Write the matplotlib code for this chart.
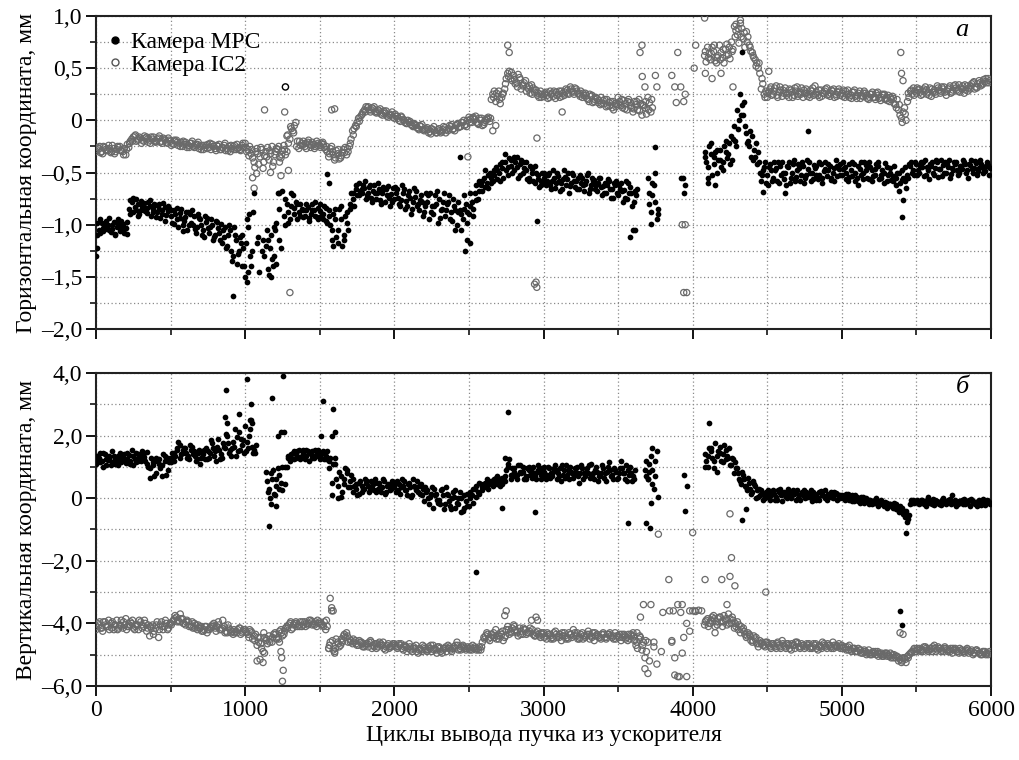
import numpy as np
import matplotlib
matplotlib.use("Agg")
import matplotlib.pyplot as plt
from matplotlib.lines import Line2D
from matplotlib.ticker import FixedLocator, FixedFormatter

nan = np.nan

# beam extraction cycle: three interleaved readouts, every 20 cycles each
cycles = np.arange(0, 6000, 20)
cycles_b = cycles + 10
cycles_c = cycles + 5

# horizontal coordinate, camera MPC, mm
mpc_h = [
    -1.30, -1.05, -0.98, -1.04, -1.00, -1.07, -0.97, -1.02, -1.06, -0.99, -1.03, -0.85, -0.78, -0.83, -0.80, -0.86, -0.79, -0.84, -0.82, -0.88, -0.81, -0.85, -0.90, -0.83, -0.87,
    -0.92, -0.86, -0.95, -0.89, -1.00, -0.93, -0.88, -0.98, -0.92, -1.02, -0.95, -1.05, -0.97, -1.08, -1.00, -1.10, -1.03, -0.99, -1.12, -1.20, -1.05, -1.30, -1.15, -1.25, -1.10,
    -1.50, -1.02, -1.40, -0.70, -1.18, nan, -1.15, -1.20, -1.48, -1.33, -1.05, -0.70, -1.22, -0.92, -0.80, -0.95, -0.72, -0.78, -0.88, -0.85, -0.92, -0.83, -0.90, -0.86, -0.93,
    -0.87, -0.95, -0.84, -0.92, -1.05, -0.85, -1.18, -0.95, -1.10, -0.88, -0.80, -0.75, -0.66, -0.60, -0.70, -0.65, -0.72, -0.62, -0.68, -0.75, -0.66, -0.70, -0.78, -0.63, -0.71,
    -0.75, -0.66, -0.82, -0.70, -0.77, -0.68, -0.85, -0.73, -0.80, -0.72, -0.88, -0.78, -0.70, -0.90, -0.80, -0.75, -0.85, -0.92, -0.78, -0.88, -0.82, -1.00, -0.86, -0.95, -0.80,
    -0.90, -0.78, -0.70, -0.75, -0.62, -0.55, -0.60, -0.50, -0.58, -0.45, -0.50, -0.40, -0.32, -0.45, -0.38, -0.48, -0.35, -0.42, -0.50, -0.40, -0.55, -0.47, -0.60, -0.52, -0.58,
    -0.55, -0.62, -0.50, -0.58, -0.65, -0.53, -0.60, -0.48, -0.56, -0.63, -0.52, -0.58, -0.66, -0.55, -0.61, -0.50, -0.62, -0.57, -0.68, -0.55, -0.63, -0.70, -0.58, -0.66, -0.62,
    -0.72, -0.60, -0.67, -0.75, -0.64, -1.05, -0.72, nan, nan, nan, -0.55, -0.88, -0.62, -0.95, nan, nan, nan, nan, nan, nan, nan, -0.55, -0.70, nan, nan,
    nan, nan, nan, nan, -0.30, -0.45, -0.22, -0.35, -0.50, -0.28, -0.40, -0.20, -0.32, -0.15, -0.05, 0.10, 0.25, 0.05, -0.12, -0.25, -0.15, -0.35, -0.30, -0.58, -0.45,
    -0.52, -0.42, -0.55, -0.46, -0.60, -0.40, -0.50, -0.45, -0.55, -0.38, -0.48, -0.58, -0.44, -0.52, -0.40, -0.50, -0.46, -0.56, -0.42, -0.49, -0.53, -0.44, -0.50, -0.38, -0.47,
    -0.52, -0.45, -0.58, -0.48, -0.42, -0.55, -0.47, -0.50, -0.43, -0.56, -0.48, -0.52, -0.44, -0.55, -0.50, -0.58, -0.46, -0.53, -0.62, -0.50, -0.57, -0.45, -0.52, -0.44, -0.48,
    -0.42, -0.50, -0.45, -0.38, -0.48, -0.44, -0.52, -0.40, -0.47, -0.43, -0.50, -0.38, -0.46, -0.42, -0.52, -0.44, -0.40, -0.48, -0.43, -0.50, -0.41, -0.46, -0.44, -0.49, -0.43,
]
mpc_h_b = [
    -0.98, -1.08, -1.03, -0.96, -1.05, -1.00, -1.09, -0.95, -1.01, -1.08, -0.97, -0.76, -0.88, -0.75, -0.90, -0.82, -0.87, -0.78, -0.92, -0.80, -0.88, -0.94, -0.79, -0.91, -0.84,
    -0.98, -0.90, -1.02, -0.85, -0.96, -1.05, -0.90, -1.00, -1.08, -0.94, -1.10, -0.92, -1.03, -0.95, -1.12, -0.97, -1.15, -1.05, -1.22, -1.00, -1.35, -1.10, -1.28, -1.18, -1.40,
    -0.95, -1.30, -0.88, nan, -1.45, -1.25, nan, -1.42, -1.10, -1.02, -1.38, -0.85, nan, -0.75, -0.98, -0.82, -0.90, -0.95, -0.80, -0.93, -0.86, -0.96, -0.80, -0.92, -0.84,
    -0.92, -0.82, -0.98, -1.00, -0.90, -1.12, -0.85, -1.20, -0.92, -1.05, -0.70, -0.82, -0.72, -0.68, -0.62, -0.75, -0.64, -0.78, -0.70, -0.60, -0.80, -0.66, -0.72, -0.82, -0.65,
    -0.70, -0.80, -0.62, -0.85, -0.72, -0.90, -0.65, -0.82, -0.76, -0.92, -0.70, -0.95, -0.82, -0.72, -0.98, -0.86, -0.70, -0.80, -0.95, -0.75, -1.05, -0.78, -0.90, -0.72, -0.98,
    -0.70, -0.85, -0.62, -0.58, -0.68, -0.48, -0.65, -0.55, -0.48, -0.56, -0.42, -0.55, -0.48, -0.36, -0.50, -0.40, -0.55, -0.38, -0.46, -0.56, -0.44, -0.58, -0.50, -0.64, -0.50,
    -0.60, -0.52, -0.66, -0.55, -0.50, -0.68, -0.56, -0.62, -0.70, -0.50, -0.64, -0.55, -0.60, -0.68, -0.52, -0.66, -0.58, -0.62, -0.55, -0.72, -0.60, -0.56, -0.74, -0.60, -0.70,
    -0.66, -0.78, -0.58, -0.70, -0.82, -0.68, nan, nan, nan, nan, -0.70, -0.60, -0.78, -0.85, nan, nan, nan, nan, nan, nan, nan, nan, -0.62, nan, nan,
    nan, nan, nan, nan, -0.40, -0.25, -0.52, -0.30, -0.38, -0.45, -0.25, -0.36, -0.42, -0.18, -0.25, 0.00, 0.15, -0.05, -0.20, -0.35, -0.28, -0.42, -0.50, -0.48, -0.60,
    -0.45, -0.58, -0.48, -0.40, -0.52, -0.56, -0.44, -0.60, -0.42, -0.54, -0.46, -0.40, -0.55, -0.47, -0.58, -0.43, -0.52, -0.40, -0.55, -0.47, -0.42, -0.57, -0.46, -0.53, -0.42,
    -0.47, -0.56, -0.42, -0.53, -0.58, -0.44, -0.52, -0.40, -0.55, -0.45, -0.53, -0.42, -0.56, -0.48, -0.41, -0.52, -0.57, -0.44, -0.50, -0.60, -0.55, -0.65, -0.42, -0.50, -0.40,
    -0.48, -0.40, -0.53, -0.45, -0.42, -0.50, -0.38, -0.47, -0.53, -0.40, -0.45, -0.51, -0.40, -0.48, -0.44, -0.38, -0.50, -0.42, -0.47, -0.39, -0.49, -0.42, -0.47, -0.40, -0.46,
]
mpc_h_c = [
    -1.10, -0.95, -1.06, -1.01, -0.94, -1.04, -1.10, -0.99, -0.96, -1.04, -1.09, -0.90, -0.74, -0.86, -0.92, -0.77, -0.83, -0.89, -0.76, -0.85, -0.93, -0.80, -0.86, -0.96, -0.82,
    -0.86, -0.99, -0.84, -0.94, -1.06, -0.88, -1.00, -0.86, -1.04, -0.90, -1.00, -1.12, -0.94, -1.02, -1.15, -0.96, -1.08, -1.18, -1.02, -1.10, -1.25, -1.02, -1.38, -1.12, -1.22,
    -1.18, -0.90, -1.25, nan, -1.12, nan, -1.30, -1.05, -1.22, -1.40, -0.98, -1.15, -0.68, -1.00, -0.88, -0.70, -0.84, -0.80, -0.92, -0.86, -0.80, -0.94, -0.86, -0.78, -0.95,
    -0.80, -0.90, -0.96, -0.86, -1.15, -0.95, -1.05, -0.82, -1.15, -0.98, -0.85, -0.70, -0.62, -0.72, -0.66, -0.58, -0.70, -0.74, -0.62, -0.70, -0.76, -0.64, -0.66, -0.74, -0.78,
    -0.64, -0.74, -0.76, -0.66, -0.82, -0.74, -0.78, -0.68, -0.86, -0.78, -0.82, -0.72, -0.88, -0.82, -0.68, -0.94, -0.78, -0.86, -0.72, -0.96, -0.86, -0.88, -1.05, -0.85, -0.88,
    -0.82, -0.92, -0.76, -0.68, -0.58, -0.64, -0.52, -0.60, -0.52, -0.48, -0.58, -0.46, -0.40, -0.52, -0.44, -0.35, -0.45, -0.52, -0.40, -0.48, -0.58, -0.50, -0.44, -0.56, -0.62,
    -0.50, -0.58, -0.62, -0.48, -0.60, -0.58, -0.66, -0.54, -0.50, -0.60, -0.58, -0.66, -0.52, -0.62, -0.58, -0.70, -0.55, -0.66, -0.60, -0.64, -0.70, -0.62, -0.66, -0.74, -0.58,
    -0.62, -0.68, -0.74, -0.60, -0.70, -0.78, -0.66, nan, nan, nan, -0.80, -0.72, -0.50, -0.90, nan, nan, nan, nan, nan, nan, nan, nan, nan, nan, nan,
    nan, nan, nan, nan, -0.35, -0.55, -0.32, -0.42, -0.28, -0.38, -0.48, -0.30, -0.22, -0.38, -0.20, -0.08, 0.05, 0.18, -0.22, -0.10, -0.38, -0.22, -0.40, -0.52, -0.40,
    -0.62, -0.48, -0.40, -0.58, -0.44, -0.50, -0.62, -0.40, -0.50, -0.58, -0.42, -0.52, -0.60, -0.38, -0.50, -0.56, -0.44, -0.52, -0.60, -0.40, -0.48, -0.55, -0.58, -0.44, -0.52,
    -0.40, -0.50, -0.54, -0.40, -0.50, -0.62, -0.40, -0.56, -0.48, -0.40, -0.58, -0.47, -0.40, -0.52, -0.60, -0.45, -0.50, -0.58, -0.55, -0.68, -0.48, -0.58, -0.55, -0.40, -0.52,
    -0.52, -0.44, -0.40, -0.52, -0.56, -0.40, -0.46, -0.54, -0.38, -0.50, -0.42, -0.55, -0.48, -0.40, -0.50, -0.47, -0.42, -0.55, -0.38, -0.46, -0.52, -0.38, -0.50, -0.44, -0.52,
]

# horizontal coordinate, camera IC2, mm
ic2_h = [
    -0.30, -0.27, -0.30, -0.26, -0.29, -0.31, -0.27, -0.28, -0.25, -0.30, -0.33, -0.26, -0.18, -0.15, -0.19, -0.17, -0.20, -0.16, -0.19, -0.18, -0.21, -0.17, -0.20, -0.18, -0.22,
    -0.20, -0.23, -0.19, -0.22, -0.25, -0.21, -0.24, -0.22, -0.26, -0.23, -0.25, -0.28, -0.24, -0.26, -0.23, -0.27, -0.25, -0.28, -0.24, -0.27, -0.30, -0.25, -0.28, -0.26, -0.24,
    -0.22, -0.28, -0.32, -0.40, -0.27, -0.35, -0.46, -0.30, -0.38, -0.25, -0.33, -0.28, -0.36, -0.24, -0.30, -0.18, -0.10, -0.02, -0.27, -0.22, -0.25, -0.21, -0.26, -0.23, -0.20,
    -0.24, -0.21, -0.28, -0.35, -0.25, -0.38, -0.32, -0.36, -0.28, -0.33, -0.25, -0.10, -0.05, 0.02, 0.05, 0.10, 0.12, 0.08, 0.11, 0.07, 0.09, 0.05, 0.07, 0.03, 0.05,
    0.02, 0.04, -0.01, 0.01, -0.03, -0.02, -0.05, -0.04, -0.08, -0.06, -0.10, -0.07, -0.11, -0.09, -0.12, -0.08, -0.11, -0.07, -0.10, -0.06, -0.08, -0.04, -0.06, -0.02, -0.04,
    0.03, -0.02, 0.01, -0.03, 0.00, -0.04, 0.02, -0.01, 0.25, 0.18, 0.28, 0.22, 0.30, 0.45, 0.40, 0.43, 0.36, 0.41, 0.33, 0.38, 0.30, 0.34, 0.27, 0.24, 0.28,
    0.23, 0.27, 0.22, 0.26, 0.21, 0.25, 0.28, 0.24, 0.29, 0.32, 0.27, 0.30, 0.25, 0.22, 0.26, 0.20, 0.23, 0.18, 0.21, 0.15, 0.19, 0.13, 0.17, 0.12, 0.16,
    0.22, 0.14, 0.19, 0.10, 0.17, 0.08, 0.15, 0.20, 0.05, 0.12, 0.22, 0.08, nan, nan, nan, nan, nan, nan, 0.43, nan, nan, 0.32, 0.18, nan, nan,
    nan, nan, nan, nan, 0.62, 0.70, 0.58, 0.66, 0.55, 0.72, 0.60, 0.68, 0.63, 0.75, 0.90, 0.82, 0.93, 0.78, 0.85, 0.72, 0.65, 0.58, 0.50, 0.30, 0.25,
    0.22, 0.30, 0.25, 0.33, 0.27, 0.23, 0.31, 0.26, 0.29, 0.24, 0.32, 0.27, 0.22, 0.30, 0.25, 0.28, 0.33, 0.24, 0.29, 0.26, 0.31, 0.23, 0.28, 0.25, 0.30,
    0.26, 0.22, 0.29, 0.24, 0.27, 0.21, 0.28, 0.23, 0.26, 0.20, 0.25, 0.22, 0.27, 0.19, 0.24, 0.21, 0.18, 0.23, 0.15, 0.10, 0.02, 0.12, 0.18, 0.28, 0.31,
    0.26, 0.30, 0.25, 0.32, 0.27, 0.23, 0.29, 0.33, 0.26, 0.30, 0.24, 0.31, 0.27, 0.34, 0.28, 0.31, 0.26, 0.33, 0.30, 0.36, 0.32, 0.38, 0.34, 0.37, 0.40,
]
ic2_h_b = [
    -0.26, -0.31, -0.25, -0.29, -0.27, -0.24, -0.30, -0.26, -0.29, -0.27, -0.23, -0.20, -0.16, -0.20, -0.16, -0.19, -0.17, -0.21, -0.16, -0.20, -0.18, -0.21, -0.17, -0.21, -0.19,
    -0.22, -0.20, -0.24, -0.21, -0.23, -0.26, -0.22, -0.25, -0.23, -0.27, -0.24, -0.26, -0.23, -0.28, -0.25, -0.24, -0.28, -0.26, -0.29, -0.25, -0.27, -0.24, -0.27, -0.29, -0.26,
    -0.30, -0.25, -0.36, -0.30, -0.42, -0.28, -0.34, -0.26, -0.32, -0.40, -0.27, -0.35, -0.29, -0.33, -0.22, -0.08, -0.05, -0.20, -0.24, -0.20, -0.27, -0.23, -0.21, -0.25, -0.22,
    -0.22, -0.26, -0.30, -0.27, -0.33, -0.29, -0.37, -0.31, -0.26, -0.30, -0.18, -0.08, -0.02, 0.03, 0.08, 0.13, 0.10, 0.12, 0.08, 0.10, 0.06, 0.09, 0.04, 0.06, 0.03,
    0.04, 0.00, 0.03, -0.02, 0.00, -0.04, -0.03, -0.07, -0.05, -0.09, -0.08, -0.12, -0.08, -0.10, -0.09, -0.12, -0.06, -0.09, -0.05, -0.09, -0.05, -0.07, -0.02, -0.05, 0.00,
    0.01, 0.03, -0.02, 0.02, -0.05, 0.00, 0.03, 0.20, 0.28, 0.23, 0.16, 0.26, 0.40, 0.47, 0.38, 0.35, 0.44, 0.30, 0.36, 0.32, 0.26, 0.31, 0.29, 0.22, 0.25,
    0.26, 0.21, 0.25, 0.28, 0.24, 0.22, 0.26, 0.30, 0.25, 0.28, 0.31, 0.26, 0.28, 0.24, 0.21, 0.25, 0.17, 0.22, 0.19, 0.16, 0.20, 0.14, 0.18, 0.10, 0.15,
    0.18, 0.12, 0.16, 0.20, 0.12, 0.18, 0.10, 0.16, 0.14, 0.06, 0.17, 0.12, nan, nan, nan, nan, nan, nan, nan, nan, nan, nan, 0.25, nan, nan,
    nan, nan, nan, nan, 0.56, 0.64, 0.70, 0.57, 0.62, 0.65, 0.55, 0.73, 0.59, 0.68, 0.86, 0.74, 0.88, 0.70, 0.80, 0.66, 0.60, 0.55, 0.45, 0.35, 0.28,
    0.28, 0.24, 0.31, 0.22, 0.29, 0.26, 0.24, 0.30, 0.22, 0.28, 0.25, 0.31, 0.26, 0.23, 0.29, 0.24, 0.27, 0.22, 0.26, 0.30, 0.25, 0.29, 0.22, 0.27, 0.24,
    0.29, 0.25, 0.22, 0.27, 0.23, 0.26, 0.24, 0.28, 0.21, 0.25, 0.22, 0.26, 0.21, 0.25, 0.20, 0.24, 0.20, 0.16, 0.20, 0.05, 0.08, 0.00, 0.22, 0.25, 0.28,
    0.29, 0.24, 0.30, 0.25, 0.31, 0.27, 0.25, 0.29, 0.32, 0.27, 0.30, 0.26, 0.33, 0.29, 0.27, 0.33, 0.29, 0.31, 0.35, 0.30, 0.35, 0.33, 0.39, 0.36, 0.38,
]
ic2_h_c = [
    -0.28, -0.25, -0.32, -0.28, -0.24, -0.30, -0.32, -0.25, -0.29, -0.33, -0.28, -0.22, -0.20, -0.14, -0.18, -0.22, -0.15, -0.18, -0.22, -0.16, -0.20, -0.15, -0.22, -0.19, -0.17,
    -0.24, -0.19, -0.21, -0.25, -0.20, -0.23, -0.26, -0.20, -0.24, -0.21, -0.28, -0.24, -0.27, -0.22, -0.25, -0.29, -0.23, -0.26, -0.22, -0.29, -0.24, -0.28, -0.23, -0.28, -0.22,
    -0.26, -0.34, -0.28, -0.45, -0.32, -0.26, -0.40, -0.35, -0.29, -0.44, -0.30, -0.25, -0.33, -0.28, -0.14, -0.06, -0.12, -0.25, -0.20, -0.24, -0.22, -0.19, -0.24, -0.27, -0.24,
    -0.26, -0.23, -0.25, -0.32, -0.30, -0.36, -0.28, -0.34, -0.31, -0.27, -0.22, -0.14, -0.06, -0.01, 0.06, 0.08, 0.13, 0.10, 0.13, 0.08, 0.11, 0.07, 0.09, 0.05, 0.08,
    0.06, 0.02, 0.04, 0.00, -0.03, -0.01, -0.06, -0.05, -0.09, -0.04, -0.09, -0.09, -0.13, -0.06, -0.12, -0.10, -0.09, -0.12, -0.08, -0.04, -0.10, -0.03, -0.06, 0.00, -0.06,
    -0.02, 0.02, 0.04, -0.04, 0.02, -0.02, 0.01, 0.02, 0.22, 0.26, 0.20, 0.25, 0.35, 0.42, 0.46, 0.39, 0.32, 0.39, 0.34, 0.28, 0.33, 0.25, 0.29, 0.26, 0.22,
    0.25, 0.24, 0.28, 0.23, 0.27, 0.28, 0.23, 0.27, 0.26, 0.30, 0.25, 0.28, 0.23, 0.26, 0.24, 0.18, 0.24, 0.20, 0.17, 0.22, 0.16, 0.20, 0.14, 0.18, 0.13,
    0.15, 0.20, 0.11, 0.18, 0.14, 0.11, 0.18, 0.09, 0.15, 0.18, 0.10, 0.20, nan, nan, nan, nan, nan, nan, nan, nan, nan, nan, nan, nan, nan,
    nan, nan, nan, nan, 0.66, 0.60, 0.64, 0.72, 0.60, 0.58, 0.68, 0.62, 0.70, 0.66, 0.80, 0.88, 0.80, 0.84, 0.75, 0.70, 0.62, 0.52, 0.55, 0.40, 0.22,
    0.26, 0.32, 0.28, 0.24, 0.32, 0.29, 0.26, 0.22, 0.27, 0.31, 0.23, 0.25, 0.29, 0.26, 0.22, 0.31, 0.25, 0.29, 0.23, 0.28, 0.24, 0.26, 0.30, 0.23, 0.28,
    0.23, 0.28, 0.25, 0.21, 0.29, 0.24, 0.21, 0.26, 0.24, 0.22, 0.27, 0.20, 0.24, 0.22, 0.25, 0.19, 0.22, 0.21, 0.12, 0.15, -0.02, 0.06, 0.26, 0.29, 0.24,
    0.31, 0.27, 0.28, 0.29, 0.24, 0.30, 0.27, 0.31, 0.28, 0.32, 0.28, 0.33, 0.29, 0.31, 0.34, 0.30, 0.34, 0.28, 0.33, 0.37, 0.31, 0.36, 0.35, 0.40, 0.36,
]

# vertical coordinate, camera MPC, mm
mpc_v = [
    1.10, 1.30, 1.18, 1.40, 1.22, 1.05, 1.35, 1.20, 1.45, 1.28, 1.12, 1.38, 1.55, 1.25, 1.40, 1.18, 1.32, 1.48, 0.95, 1.15, 0.80, 1.25, 1.05, 1.35, 0.90,
    1.30, 1.20, 1.55, 1.70, 1.45, 1.60, 1.35, 1.55, 1.50, 1.25, 1.10, 1.40, 1.60, 1.30, 1.75, 1.50, 1.90, 1.40, 1.65, 2.00, 1.55, 1.80, 1.35, 2.10, 1.70,
    2.30, 1.60, 2.50, 1.55, nan, nan, nan, 0.85, 0.30, 0.60, 0.10, 0.95, 0.50, 2.10, 1.00, 1.20, 1.45, 1.30, 1.55, 1.35, 1.25, 1.50, 1.40, 1.30, 1.45,
    1.35, 1.50, 1.25, 0.95, 0.10, 1.10, 0.00, 0.70, 0.45, 0.90, 0.55, 0.20, 0.45, 0.15, 0.40, 0.30, 0.55, 0.25, 0.45, 0.20, 0.50, 0.35, 0.15, 0.45, 0.30,
    0.35, 0.55, 0.15, 0.40, 0.25, 0.50, 0.10, 0.35, 0.20, 0.45, -0.10, 0.25, 0.05, -0.30, 0.15, -0.05, 0.30, -0.20, 0.10, -0.35, 0.05, -0.15, 0.20, -0.40, -0.10,
    -0.25, 0.10, 0.30, 0.20, 0.45, 0.35, 0.60, 0.50, 0.40, 0.65, 0.55, 0.45, 0.70, 1.10, 0.75, 0.95, 0.60, 0.85, 1.00, 0.70, 0.90, 0.65, 0.80, 1.05, 0.75,
    0.85, 0.60, 0.95, 0.70, 1.05, 0.80, 0.55, 0.90, 0.75, 1.00, 0.65, 0.85, 0.50, 0.95, 0.70, 0.80, 1.10, 0.60, 0.85, 0.70, 0.95, 0.55, 1.15, 0.75, 0.90,
    0.65, 1.20, 0.80, 0.55, 1.00, 0.70, nan, nan, nan, 0.90, 0.60, 1.35, 0.30, 1.50, nan, nan, nan, nan, nan, nan, nan, nan, 0.75, 0.40, nan,
    nan, nan, nan, nan, 1.40, 1.00, 1.60, 1.20, 0.85, 1.45, 1.15, 1.55, 1.30, 1.05, 0.80, 0.95, 0.55, 0.75, 0.35, 0.50, 0.20, 0.40, 0.05, 0.25, 0.10,
    0.15, -0.05, 0.25, 0.05, 0.20, -0.10, 0.10, 0.30, 0.00, 0.15, 0.25, -0.05, 0.10, 0.20, 0.05, -0.10, 0.15, 0.02, 0.22, 0.08, -0.05, 0.12, 0.00, 0.18, 0.05,
    0.10, -0.05, 0.15, 0.00, -0.10, 0.05, -0.15, -0.05, 0.02, -0.20, -0.08, -0.15, -0.25, -0.10, -0.20, -0.30, -0.18, -0.28, -0.35, -0.45, -0.30, -0.60, -0.75, -0.20, -0.05,
    -0.10, -0.20, -0.05, -0.15, 0.05, -0.12, -0.22, -0.08, -0.15, 0.00, -0.18, -0.10, 0.10, -0.05, -0.20, -0.12, -0.02, -0.15, -0.25, -0.08, -0.18, -0.05, -0.15, -0.22, -0.10,
]
mpc_v_b = [
    1.35, 1.15, 1.45, 1.05, 1.30, 1.50, 1.10, 1.35, 1.15, 1.40, 1.25, 1.20, 1.05, 1.45, 1.30, 1.50, 1.20, 1.00, 1.30, 0.70, 1.20, 0.95, 1.40, 0.75, 1.15,
    1.45, 1.35, 1.80, 1.40, 1.60, 1.30, 1.70, 1.40, 1.20, 1.55, 1.45, 1.25, 1.50, 1.85, 1.35, 1.65, 1.25, 1.75, 2.05, 1.45, 1.60, 2.20, 1.50, 1.90, 1.45,
    1.80, 2.20, 1.45, 1.70, nan, nan, nan, 0.20, 0.80, 0.15, 0.60, 0.30, 1.00, 0.45, 1.30, 1.40, 1.25, 1.50, 1.30, 1.45, 1.55, 1.20, 1.50, 1.35, 1.55,
    1.40, 1.25, 1.50, 1.30, 1.10, 0.60, 0.85, 0.20, 0.95, 0.35, 0.75, 0.40, 0.10, 0.55, 0.30, 0.50, 0.20, 0.40, 0.60, 0.30, 0.20, 0.55, 0.40, 0.25, 0.50,
    0.20, 0.45, 0.60, 0.25, 0.45, 0.05, 0.40, 0.55, 0.15, 0.30, 0.20, -0.20, 0.35, 0.10, -0.15, 0.25, -0.35, 0.15, -0.25, 0.20, -0.30, 0.00, -0.45, 0.10, -0.25,
    0.00, -0.15, 0.40, 0.15, 0.35, 0.50, 0.45, 0.55, 0.60, 0.45, 0.60, 0.55, 0.90, 1.25, 0.95, 0.70, 1.05, 0.80, 0.60, 0.95, 0.75, 1.00, 0.60, 0.85, 0.95,
    0.70, 1.00, 0.80, 0.95, 0.60, 0.95, 0.75, 1.05, 0.60, 0.80, 0.95, 0.70, 1.05, 0.80, 0.95, 0.65, 0.80, 1.00, 0.70, 1.05, 0.80, 1.00, 0.70, 0.95, 0.60,
    0.95, 0.80, 1.05, 0.75, 0.55, 0.90, nan, nan, nan, 0.70, 1.10, 0.45, 1.20, 0.05, nan, nan, nan, nan, nan, nan, nan, nan, nan, nan, nan,
    nan, nan, nan, nan, 1.20, 1.60, 1.30, 1.75, 1.50, 1.20, 1.70, 1.35, 1.05, 1.25, 0.95, 0.60, 0.85, 0.40, 0.65, 0.15, 0.45, 0.25, 0.10, -0.05, 0.20,
    0.05, 0.20, -0.05, 0.25, 0.10, 0.20, 0.00, 0.15, 0.25, -0.05, 0.10, 0.20, 0.00, 0.10, 0.25, 0.05, -0.05, 0.20, 0.10, 0.00, 0.15, 0.05, 0.20, -0.05, 0.10,
    0.00, 0.15, -0.05, 0.10, 0.05, -0.05, 0.05, -0.15, -0.05, -0.05, -0.15, 0.00, -0.10, -0.20, -0.12, -0.22, -0.25, -0.15, -0.30, -0.25, -0.50, -0.40, -0.55, -0.15, -0.10,
    -0.15, -0.05, -0.20, -0.05, -0.15, -0.02, -0.10, -0.20, -0.05, -0.15, -0.05, -0.20, -0.10, -0.18, -0.08, -0.20, -0.12, -0.05, -0.10, -0.18, -0.08, -0.22, -0.10, -0.05, -0.18,
]
mpc_v_c = [
    1.20, 1.45, 1.00, 1.25, 1.35, 1.15, 1.25, 1.05, 1.30, 1.20, 1.45, 1.10, 1.35, 1.15, 1.20, 1.35, 1.45, 1.10, 0.65, 1.05, 1.30, 1.10, 0.70, 1.20, 1.30,
    1.15, 1.45, 1.60, 1.30, 1.55, 1.45, 1.25, 1.65, 1.35, 1.45, 1.30, 1.55, 1.25, 1.45, 1.60, 1.20, 1.55, 1.30, 1.60, 1.75, 1.35, 1.65, 1.95, 1.55, 1.85,
    1.50, 2.00, 1.65, 1.45, nan, nan, nan, 0.55, 0.00, 0.90, 0.40, 0.75, 0.25, 1.00, 1.35, 1.30, 1.50, 1.35, 1.25, 1.55, 1.35, 1.45, 1.30, 1.55, 1.35,
    1.25, 1.45, 1.35, 1.20, 0.50, 1.30, 0.40, 0.05, 0.60, 0.80, 0.35, 0.60, 0.30, 0.50, 0.20, 0.60, 0.40, 0.55, 0.25, 0.50, 0.35, 0.60, 0.20, 0.40, 0.55,
    0.45, 0.25, 0.35, 0.55, 0.10, 0.35, 0.60, 0.25, 0.40, 0.10, 0.35, 0.00, 0.15, 0.30, -0.05, -0.20, 0.10, 0.35, -0.10, 0.00, 0.25, -0.20, 0.00, -0.30, 0.15,
    0.20, 0.30, 0.05, 0.50, 0.25, 0.40, 0.30, 0.45, 0.55, 0.70, 0.40, 0.65, 0.55, 1.00, 0.60, 0.85, 0.75, 1.05, 0.85, 0.60, 1.00, 0.85, 0.70, 0.90, 0.60,
    1.00, 0.75, 0.65, 0.85, 0.90, 0.70, 1.05, 0.65, 0.90, 0.85, 0.75, 1.00, 0.80, 0.60, 0.85, 1.05, 0.70, 0.90, 0.55, 0.80, 0.65, 0.85, 0.90, 0.60, 0.85,
    0.80, 0.95, 0.60, 0.90, 0.80, 0.60, nan, nan, nan, 1.20, 0.85, 0.90, 0.70, nan, nan, nan, nan, nan, nan, nan, nan, nan, nan, nan, nan,
    nan, nan, nan, nan, 1.00, 1.35, 1.50, 0.95, 1.35, 1.65, 1.40, 1.25, 1.60, 1.30, 1.15, 0.80, 0.45, 0.60, 0.25, 0.30, 0.55, 0.00, 0.30, 0.15, 0.00,
    0.25, 0.10, 0.15, -0.05, 0.30, 0.15, 0.05, 0.20, 0.10, 0.20, 0.00, 0.15, 0.25, 0.05, 0.15, 0.20, 0.10, -0.05, 0.15, 0.25, 0.05, 0.20, 0.10, 0.15, 0.00,
    0.05, 0.00, 0.10, -0.10, 0.10, -0.10, 0.00, 0.05, -0.10, -0.05, -0.20, -0.05, -0.15, -0.05, -0.25, -0.15, -0.20, -0.30, -0.20, -0.40, -0.35, -0.50, -0.65, -0.05, -0.15,
    -0.05, -0.15, -0.10, -0.25, -0.05, -0.18, -0.05, -0.12, -0.22, -0.08, -0.12, -0.02, -0.15, -0.25, -0.10, -0.05, -0.20, -0.10, -0.02, -0.15, -0.25, -0.10, -0.02, -0.15, -0.12,
]

# vertical coordinate, camera IC2, mm
ic2_v = [
    -4.20, -4.05, -4.15, -3.95, -4.10, -4.00, -4.20, -3.90, -4.05, -4.15, -3.85, -4.10, -4.00, -4.20, -4.05, -3.95, -4.10, -4.25, -4.40, -4.05, -4.15, -4.45, -3.95, -4.10, -4.20,
    -4.00, -3.90, -3.80, -3.95, -3.85, -4.05, -3.95, -4.10, -4.00, -4.20, -4.15, -4.25, -4.10, -4.20, -4.05, -4.15, -3.95, -4.20, -4.10, -4.30, -4.20, -4.35, -4.25, -4.15, -4.30,
    -4.20, -4.35, -4.25, -4.40, -4.70, -4.45, -4.90, -4.55, -4.40, -4.60, -4.30, -4.45, -4.20, -4.35, -4.10, -4.00, -4.15, -3.95, -4.05, -4.10, -3.95, -4.05, -3.90, -4.00, -4.10,
    -3.95, -4.05, -4.20, -4.80, -3.60, -4.90, -4.60, -4.70, -4.40, -4.30, -4.50, -4.65, -4.55, -4.70, -4.60, -4.75, -4.65, -4.55, -4.70, -4.80, -4.60, -4.70, -4.85, -4.65, -4.75,
    -4.65, -4.80, -4.70, -4.85, -4.75, -4.65, -4.90, -4.80, -4.95, -4.85, -4.75, -4.90, -4.80, -4.70, -4.85, -4.75, -4.95, -4.80, -4.70, -4.85, -4.75, -4.60, -4.80, -4.70, -4.85,
    -4.80, -4.85, -4.75, -4.80, -4.85, -4.45, -4.30, -4.55, -4.40, -4.20, -4.50, -4.35, -4.45, -4.10, -4.25, -4.05, -4.30, -4.15, -4.35, -4.20, -4.30, -3.90, -4.40, -4.25, -4.45,
    -4.30, -4.50, -4.35, -4.45, -4.25, -4.40, -4.55, -4.30, -4.45, -4.35, -4.20, -4.40, -4.50, -4.30, -4.45, -4.25, -4.40, -4.55, -4.35, -4.45, -4.30, -4.50, -4.35, -4.45, -4.30,
    -4.40, -4.55, -4.35, -4.45, -4.50, -4.30, -4.70, -4.50, -4.85, -5.10, -4.60, -3.40, -4.75, -5.30, nan, -3.65, nan, -2.60, -4.55, -5.65, -3.40, -3.65, -4.45, -5.70, -3.60,
    -3.60, -3.62, -3.58, -3.60, -4.05, -3.85, -4.00, -3.75, -3.95, -3.80, -4.10, -3.90, -3.70, -4.00, -4.15, -3.95, -4.30, -4.15, -4.45, -4.35, -4.60, -4.50, -4.75, -4.65, -4.70,
    -4.60, -4.75, -4.65, -4.80, -4.70, -4.55, -4.75, -4.65, -4.85, -4.70, -4.60, -4.80, -4.70, -4.75, -4.65, -4.80, -4.70, -4.85, -4.75, -4.65, -4.80, -4.70, -4.60, -4.75, -4.65,
    -4.70, -4.80, -4.75, -4.85, -4.80, -4.90, -4.85, -4.95, -4.90, -4.85, -5.00, -4.95, -4.90, -5.00, -5.05, -4.95, -5.05, -5.00, -5.10, -5.20, -5.25, -5.10, -5.05, -4.95, -4.85,
    -4.90, -4.80, -4.85, -4.75, -4.90, -4.80, -4.70, -4.85, -4.80, -4.90, -4.80, -4.85, -4.95, -4.80, -4.90, -4.85, -4.95, -4.80, -4.90, -5.00, -4.85, -4.95, -5.00, -4.90, -5.00,
]
ic2_v_b = [
    -4.00, -4.15, -3.95, -4.10, -4.20, -3.95, -4.05, -4.15, -3.90, -4.05, -4.10, -3.95, -4.15, -4.05, -3.90, -4.15, -4.00, -4.05, -4.15, -4.25, -3.95, -4.05, -4.20, -4.00, -4.05,
    -3.95, -3.75, -3.90, -3.85, -4.00, -3.90, -4.05, -4.15, -4.05, -4.15, -4.25, -4.10, -4.20, -4.10, -4.00, -4.10, -4.20, -3.90, -4.25, -4.15, -4.25, -4.30, -4.20, -4.35, -4.20,
    -4.30, -4.20, -4.50, -4.35, -4.60, -4.80, -4.45, -4.65, -4.50, -4.35, -4.50, -4.25, -4.40, -4.15, -4.05, -4.20, -4.00, -4.10, -3.95, -4.05, -4.00, -3.90, -4.05, -3.95, -4.00,
    -4.05, -3.95, -4.10, -4.60, -4.85, -4.50, -4.75, -4.55, -4.45, -4.60, -4.55, -4.60, -4.70, -4.60, -4.75, -4.65, -4.60, -4.80, -4.65, -4.75, -4.65, -4.80, -4.70, -4.75, -4.65,
    -4.75, -4.65, -4.80, -4.70, -4.80, -4.85, -4.75, -4.90, -4.80, -4.70, -4.85, -4.75, -4.90, -4.80, -4.75, -4.90, -4.80, -4.90, -4.75, -4.80, -4.70, -4.85, -4.75, -4.80, -4.75,
    -4.75, -4.80, -4.85, -4.75, -4.60, -4.40, -4.50, -4.35, -4.45, -4.40, -4.30, -4.55, -4.20, -4.35, -4.15, -4.20, -4.40, -4.25, -4.20, -4.30, -4.15, -4.35, -4.30, -4.40, -4.35,
    -4.40, -4.35, -4.50, -4.30, -4.45, -4.35, -4.40, -4.50, -4.30, -4.45, -4.30, -4.50, -4.35, -4.40, -4.35, -4.50, -4.30, -4.40, -4.45, -4.35, -4.45, -4.35, -4.40, -4.50, -4.40,
    -4.35, -4.45, -4.50, -4.35, -4.40, -4.55, -4.80, -4.45, -4.60, -4.90, -5.20, nan, nan, nan, nan, nan, nan, nan, -3.60, nan, nan, -4.95, nan, nan, nan,
    nan, nan, nan, nan, -3.90, -4.00, -3.80, -4.10, -3.85, -3.95, -3.75, -4.05, -3.85, -3.90, -4.10, -4.05, -4.20, -4.35, -4.30, -4.55, -4.40, -4.65, -4.55, -4.70, -4.60,
    -4.70, -4.65, -4.75, -4.60, -4.80, -4.70, -4.65, -4.80, -4.70, -4.60, -4.75, -4.65, -4.80, -4.70, -4.75, -4.65, -4.80, -4.70, -4.60, -4.75, -4.70, -4.80, -4.70, -4.75, -4.80,
    -4.75, -4.85, -4.70, -4.80, -4.90, -4.80, -4.95, -4.85, -4.95, -5.00, -4.90, -5.00, -4.95, -5.05, -4.95, -5.00, -5.10, -5.00, -5.05, -5.15, -5.10, -5.25, -5.00, -4.90, -4.90,
    -4.85, -4.90, -4.75, -4.85, -4.80, -4.75, -4.90, -4.80, -4.85, -4.75, -4.90, -4.80, -4.85, -4.90, -4.80, -4.90, -4.85, -4.95, -4.85, -4.95, -4.90, -5.00, -4.90, -4.95, -4.90,
]
ic2_v_c = [
    -4.10, -3.95, -4.25, -4.05, -3.90, -4.15, -4.05, -4.20, -4.10, -3.95, -4.20, -4.05, -3.90, -4.10, -4.20, -4.05, -3.90, -4.15, -4.10, -4.35, -4.05, -4.20, -4.10, -3.90, -4.15,
    -4.05, -3.85, -3.95, -3.70, -4.00, -3.95, -4.10, -3.95, -4.15, -4.05, -4.10, -4.20, -4.30, -4.15, -4.10, -4.25, -4.05, -4.15, -4.30, -4.05, -4.30, -4.20, -4.30, -4.15, -4.25,
    -4.25, -4.45, -4.30, -4.55, -4.45, -4.65, -4.30, -4.50, -4.60, -4.45, -4.35, -4.50, -4.30, -4.25, -4.15, -3.95, -4.05, -4.00, -4.10, -3.95, -4.10, -4.00, -3.95, -4.05, -3.90,
    -4.00, -4.10, -3.90, -4.70, -4.55, -4.80, -4.65, -4.50, -4.35, -4.40, -4.60, -4.50, -4.65, -4.55, -4.65, -4.70, -4.75, -4.60, -4.75, -4.65, -4.70, -4.60, -4.75, -4.80, -4.70,
    -4.70, -4.75, -4.65, -4.75, -4.90, -4.75, -4.80, -4.70, -4.85, -4.90, -4.80, -4.85, -4.70, -4.85, -4.95, -4.80, -4.85, -4.75, -4.80, -4.90, -4.80, -4.70, -4.85, -4.75, -4.80,
    -4.85, -4.70, -4.80, -4.85, -4.75, -4.50, -4.35, -4.45, -4.30, -4.50, -4.40, -4.25, -4.40, -4.20, -4.30, -4.10, -4.25, -4.35, -4.15, -4.35, -4.25, -4.20, -4.40, -4.35, -4.30,
    -4.45, -4.30, -4.40, -4.50, -4.35, -4.45, -4.30, -4.40, -4.50, -4.35, -4.40, -4.30, -4.45, -4.50, -4.40, -4.35, -4.45, -4.30, -4.40, -4.50, -4.35, -4.45, -4.30, -4.40, -4.50,
    -4.45, -4.35, -4.40, -4.55, -4.35, -4.40, -4.60, -4.40, -4.70, -4.55, nan, nan, nan, nan, nan, nan, nan, nan, nan, nan, nan, nan, nan, nan, nan,
    nan, nan, nan, nan, -3.95, -4.10, -3.90, -3.85, -4.05, -3.80, -3.95, -3.85, -4.00, -3.80, -4.00, -4.20, -4.10, -4.25, -4.40, -4.40, -4.55, -4.45, -4.65, -4.60, -4.75,
    -4.65, -4.80, -4.70, -4.65, -4.75, -4.65, -4.80, -4.70, -4.65, -4.80, -4.65, -4.75, -4.70, -4.65, -4.80, -4.75, -4.65, -4.75, -4.80, -4.70, -4.65, -4.75, -4.80, -4.70, -4.75,
    -4.80, -4.75, -4.85, -4.90, -4.80, -4.90, -4.85, -4.90, -5.00, -4.95, -4.95, -4.90, -5.05, -4.95, -5.00, -5.05, -4.95, -5.10, -5.05, -5.10, -5.20, -5.15, -5.10, -4.95, -4.80,
    -4.80, -4.85, -4.90, -4.80, -4.85, -4.90, -4.80, -4.75, -4.90, -4.80, -4.85, -4.90, -4.80, -4.85, -4.95, -4.85, -4.90, -4.85, -4.90, -4.95, -4.85, -4.95, -4.90, -5.00, -4.95,
]

# isolated points (cycle, mm)
mpc_h_out_x = [10, 920, 980, 1010, 1020, 1150, 1170, 1190, 1230, 1547, 1560, 1590, 2440, 2473, 2490, 2507, 2956,
               3580, 3610, 3748, 3720, 3935, 4100, 4150, 4330, 4473, 4620, 4774, 5400, 5410]
mpc_h_out_y = [-1.22, -1.68, -1.40, -1.55, -1.45, -1.15, -1.50, -1.30, -0.70, -0.51, -0.60, -1.20, -0.35, -1.25, -1.15, -1.18, -0.96,
               -1.12, -1.05, -0.26, -0.99, -0.55, -0.60, -0.62, 0.65, -0.69, -0.70, -0.10, -0.93, -0.76]

ic2_h_out_x = [1050, 1060, 1077, 1130, 1170, 1230, 1240, 1265, 1280, 1290, 1300, 1580, 1600, 2493, 2660, 2680, 2760, 2770,
               2940, 2950, 2955, 2956, 3125, 3647, 3660, 3662, 3680, 3750, 3760, 3880, 3900, 3890, 3930, 3950, 3940, 3960,
               4010, 4020, 4080, 4085, 4130, 4190, 4270, 4290, 4320, 4510, 5395, 5400, 5410]
ic2_h_out_y = [-0.55, -0.65, -0.51, 0.10, -0.50, -0.40, -0.53, 0.08, -0.15, -0.48, -1.65, 0.10, 0.11, -0.35, -0.10, -0.05, 0.72, 0.65,
               -1.57, -1.55, -1.60, -0.17, 0.08, 0.65, 0.72, 0.42, 0.32, 0.43, 0.32, 0.32, 0.65, 0.17, -1.00, -1.00, -1.65, -1.65,
               0.50, 0.72, 0.98, 0.45, 0.40, 0.45, 0.32, 0.92, 0.96, 0.47, 0.65, 0.45, 0.38]
ic2_h_dark_x = [1270]
ic2_h_dark_y = [0.32]

mpc_v_out_x = [865, 870, 875, 960, 1010, 1030, 1040, 1045, 1160, 1170, 1180, 1210, 1220, 1240, 1255, 1510, 1520, 1580, 1590, 1600,
               2550, 2720, 2740, 2760, 2940, 3565, 3690, 3700, 3714, 3720, 3730, 3950, 4110, 4330, 4360, 5430]
mpc_v_out_y = [2.60, 3.45, 2.40, 2.70, 3.80, 2.50, 3.00, 2.40, -0.90, -0.20, 3.20, -0.25, 2.00, 2.10, 3.90, 2.00, 3.10, 2.00, 2.85, 2.10,
               -2.35, -0.30, 1.30, 2.75, -0.45, -0.80, -0.80, 0.60, -0.95, -0.15, 1.60, -0.40, 2.40, -0.70, -0.35, -1.10]

ic2_v_out_x = [1080, 1100, 1120, 1130, 1230, 1240, 1245, 1250, 1255, 1560, 1570, 1580, 1590, 1600, 1650, 2740, 2750, 2950, 2960,
               3627, 3650, 3670, 3680, 3700, 3740, 3770, 3790, 3845, 3860, 3880, 3900, 3910, 3930, 3960, 3980, 4000, 4015,
               4083, 4150, 4195, 4230, 4250, 4250, 4260, 4283, 4490, 5390, 5410]
ic2_v_out_y = [-5.20, -5.15, -5.25, -4.95, -4.60, -4.90, -5.10, -5.85, -5.50, -4.80, -3.20, -3.50, -3.60, -4.95, -4.60, -3.75, -3.60, -3.80, -3.90,
               -4.30, -3.80, -3.40, -5.45, -5.60, -4.60, -1.15, -4.90, -3.60, -4.60, -5.10, -5.70, -5.70, -3.40, -4.00, -4.25, -1.10, -3.60,
               -2.60, -4.30, -2.60, -3.40, -2.50, -0.50, -1.90, -2.80, -3.00, -4.30, -4.35]
mpc_v_black_low_x = [5390, 5400]
mpc_v_black_low_y = [-3.62, -4.05]

top_ticks = [1.0, 0.5, 0.0, -0.5, -1.0, -1.5, -2.0]
top_labels = ["1,0", "0,5", "0", "\u20130,5", "\u20131,0", "\u20131,5", "\u20132,0"]
bot_ticks = [4.0, 2.0, 0.0, -2.0, -4.0, -6.0]
bot_labels = ["4,0", "2,0", "0", "\u20132,0", "\u20134,0", "\u20136,0"]
x_ticks = [0, 1000, 2000, 3000, 4000, 5000, 6000]
x_labels = ["0", "1000", "2000", "3000", "4000", "5000", "6000"]

plt.rcParams["font.family"] = ["Liberation Serif", "DejaVu Serif"]

MPC_STYLE = dict(s=17, c="black", linewidths=0, zorder=3)
IC2_STYLE = dict(s=20, facecolors="none", edgecolors="#6a6a6a", linewidths=0.9, zorder=3)

fig = plt.figure(figsize=(10.2, 7.6), dpi=100)
ax1 = fig.add_axes([0.0941, 0.567, 0.8775, 0.412])
ax2 = fig.add_axes([0.0941, 0.0974, 0.8775, 0.4118])

for xs, ys in ((cycles, ic2_h), (cycles_b, ic2_h_b), (cycles_c, ic2_h_c), (ic2_h_out_x, ic2_h_out_y)):
    ax1.scatter(xs, ys, **IC2_STYLE)
ax1.scatter(ic2_h_dark_x, ic2_h_dark_y, s=20, facecolors="none", edgecolors="black", linewidths=1.0, zorder=3)
for xs, ys in ((cycles, mpc_h), (cycles_b, mpc_h_b), (cycles_c, mpc_h_c), (mpc_h_out_x, mpc_h_out_y)):
    ax1.scatter(xs, ys, **MPC_STYLE)

for xs, ys in ((cycles, ic2_v), (cycles_b, ic2_v_b), (cycles_c, ic2_v_c), (ic2_v_out_x, ic2_v_out_y)):
    ax2.scatter(xs, ys, **IC2_STYLE)
for xs, ys in ((cycles, mpc_v), (cycles_b, mpc_v_b), (cycles_c, mpc_v_c), (mpc_v_out_x, mpc_v_out_y),
               (mpc_v_black_low_x, mpc_v_black_low_y)):
    ax2.scatter(xs, ys, **MPC_STYLE)

ax1.set_ylim(-2.0, 1.0)
ax2.set_ylim(-6.0, 4.0)
ax1.yaxis.set_major_locator(FixedLocator(top_ticks))
ax1.yaxis.set_major_formatter(FixedFormatter(top_labels))
ax1.yaxis.set_minor_locator(FixedLocator([0.75, 0.25, -0.25, -0.75, -1.25, -1.75]))
ax2.yaxis.set_major_locator(FixedLocator(bot_ticks))
ax2.yaxis.set_major_formatter(FixedFormatter(bot_labels))
ax2.yaxis.set_minor_locator(FixedLocator([3.0, 1.0, -1.0, -3.0, -5.0]))

for ax in (ax1, ax2):
    ax.set_xlim(0, 6000)
    ax.xaxis.set_major_locator(FixedLocator(x_ticks))
    ax.xaxis.set_minor_locator(FixedLocator([500, 1500, 2500, 3500, 4500, 5500]))
    ax.grid(True, which="both", linestyle=(0, (1, 2)), color="#8a8a8a", linewidth=0.9)
    ax.set_axisbelow(True)
    ax.tick_params(which="major", direction="out", length=7, width=1.3, labelsize=17, pad=3,
                   top=False, right=False)
    ax.tick_params(which="minor", direction="out", length=4, width=1.1, top=False, right=False)
    for sp in ax.spines.values():
        sp.set_linewidth(1.5)
        sp.set_color("#222222")

ax1.xaxis.set_major_formatter(FixedFormatter([""] * len(x_ticks)))
ax2.xaxis.set_major_formatter(FixedFormatter(x_labels))

ax1.set_ylabel("Горизонтальная координата, мм", fontsize=17, labelpad=3)
ax2.set_ylabel("Вертикальная координата, мм", fontsize=17, labelpad=3)
ax2.set_xlabel("Циклы вывода пучка из ускорителя", fontsize=17, labelpad=3)
fig.align_ylabels([ax1, ax2])

ax1.text(0.975, 0.99, "а", transform=ax1.transAxes, ha="right", va="top",
         fontsize=19, style="italic")
ax2.text(0.975, 0.99, "б", transform=ax2.transAxes, ha="right", va="top",
         fontsize=19, style="italic")

handles = [
    Line2D([], [], linestyle="none", marker="o", markersize=5, markerfacecolor="black",
           markeredgecolor="black"),
    Line2D([], [], linestyle="none", marker="o", markersize=5, markerfacecolor="none",
           markeredgecolor="#555555", markeredgewidth=1.0),
]
ax1.legend(handles, ["Камера MPC", "Камера IC2"], loc="upper left",
           bbox_to_anchor=(0.0, 0.981), frameon=False,
           fontsize=17, handlelength=0.8, handletextpad=0.3, labelspacing=0.05,
           borderaxespad=0.2, borderpad=0.2)

fig.savefig("out.png", dpi=100)
